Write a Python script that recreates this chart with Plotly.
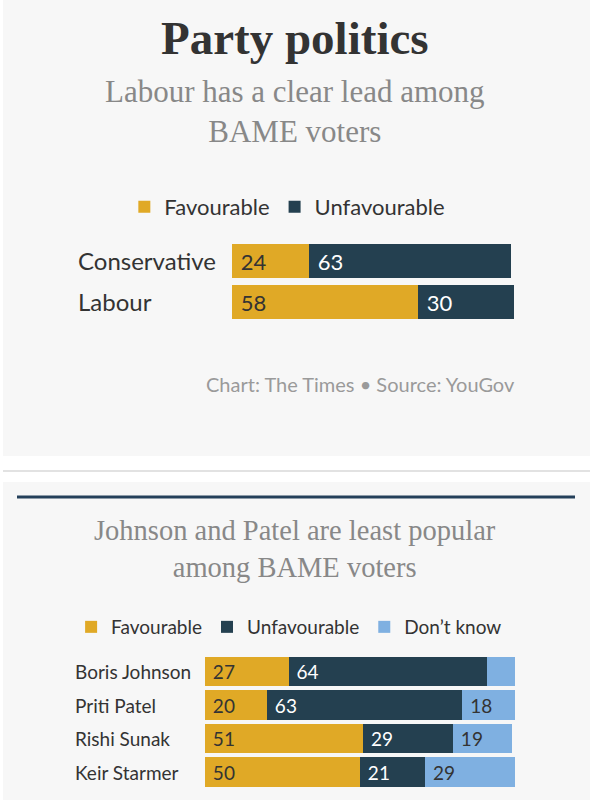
"""Party politics: favourability among BAME voters (The Times / YouGov)"""
import plotly.graph_objects as go

# data
parties = ["Conservative", "Labour"]
party_fav = [24, 58]
party_unfav = [63, 30]

leaders = ["Boris Johnson", "Priti Patel", "Rishi Sunak", "Keir Starmer"]
leader_fav = [27, 20, 51, 50]
leader_unfav = [64, 63, 29, 21]
leader_dk = [10, 18, 19, 29]

YELLOW = "#e0a926"
NAVY = "#244050"
LIGHT = "#7fb0e1"
W, H = 590, 800


def px(x):
    return x / W


def py(y):
    return 1 - y / H


def labels(vals, minimum=12):
    # small segments get no number
    return ["\u00a0" + str(v) if v >= minimum else "" for v in vals]


fig = go.Figure()

# top chart
for name, vals, col, tcol in [("Favourable", party_fav, YELLOW, "#333333"),
                              ("Unfavourable", party_unfav, NAVY, "white")]:
    fig.add_trace(go.Bar(
        y=parties, x=vals, name=name, orientation="h", marker_color=col,
        marker_line_width=0, width=0.83, text=labels(vals),
        textposition="inside", insidetextanchor="start", textangle=0,
        constraintext="none", textfont=dict(family="Lato", size=22, color=tcol),
        xaxis="x", yaxis="y", legend="legend", hoverinfo="skip"))

# bottom chart
for name, vals, col, tcol in [("Favourable", leader_fav, YELLOW, "#333333"),
                              ("Unfavourable", leader_unfav, NAVY, "white"),
                              ("Don\u2019t know", leader_dk, LIGHT, "#333333")]:
    fig.add_trace(go.Bar(
        y=leaders, x=vals, name=name, orientation="h", marker_color=col,
        marker_line_width=0, width=0.87, text=labels(vals),
        textposition="inside", insidetextanchor="start", textangle=0,
        constraintext="none", textfont=dict(family="Lato", size=19, color=tcol),
        xaxis="x2", yaxis="y2", legend="legend2", hoverinfo="skip"))

annotations = [
    dict(text="<b>Party politics</b>", x=0.5, y=py(38),
         font=dict(family="Liberation Serif", size=47, color="#333333")),
    dict(text="Labour has a clear lead among<br>BAME voters", x=0.5, y=py(111),
         font=dict(family="Liberation Serif", size=31, color="#888888")),
    dict(text="Chart: The Times \u2022 Source: YouGov", x=px(517), y=py(384),
         xanchor="right", font=dict(family="Lato", size=20, color="#9a9a9a")),
    dict(text="Johnson and Patel are least popular<br>among BAME voters",
         x=0.5, y=py(549),
         font=dict(family="Liberation Serif", size=28.5, color="#888888")),
]
for p in parties:
    annotations.append(dict(text=p, x=px(76), y=p, xref="paper", yref="y",
                            xanchor="left",
                            font=dict(family="Lato", size=24, color="#333333")))
for p in leaders:
    annotations.append(dict(text=p, x=px(73), y=p, xref="paper", yref="y2",
                            xanchor="left",
                            font=dict(family="Lato", size=19, color="#333333")))
for a in annotations:
    a.setdefault("xref", "paper")
    a.setdefault("yref", "paper")
    a.setdefault("xanchor", "center")
    a.setdefault("yanchor", "middle")
    a["showarrow"] = False

shapes = [
    dict(type="rect", x0=px(3), x1=1, y0=py(456), y1=1),
    dict(type="rect", x0=px(3), x1=1, y0=0, y1=py(482)),
]
for s in shapes:
    s.update(xref="paper", yref="paper", fillcolor="#f7f7f7",
             line_width=0, layer="below")
shapes += [
    dict(type="line", xref="paper", yref="paper", x0=px(3), x1=1,
         y0=py(471), y1=py(471), line=dict(color="#d9d9d9", width=1.5)),
    dict(type="line", xref="paper", yref="paper", x0=px(17), x1=px(575),
         y0=py(497), y1=py(497), line=dict(color="#24405a", width=3)),
]

axis_off = dict(showgrid=False, zeroline=False, showticklabels=False,
                showline=False, ticks="", fixedrange=True)

fig.update_layout(
    width=W, height=H, margin=dict(l=0, r=0, t=0, b=0),
    paper_bgcolor="white", plot_bgcolor="rgba(0,0,0,0)",
    barmode="stack", annotations=annotations, shapes=shapes,
    xaxis=dict(domain=[px(232), px(553)], range=[0, 100], **axis_off),
    yaxis=dict(domain=[py(322.5), py(240.5)], autorange="reversed",
               **axis_off),
    xaxis2=dict(domain=[px(205), px(515)], range=[0, 100], anchor="y2",
                **axis_off),
    yaxis2=dict(domain=[py(788.75), py(654.75)], autorange="reversed",
                anchor="x2", **axis_off),
    legend=dict(orientation="h", x=0.487, xanchor="center", y=py(207),
                yanchor="middle", bgcolor="rgba(0,0,0,0)", traceorder="normal",
                font=dict(family="Lato", size=22, color="#333333"),
                itemclick=False, itemdoubleclick=False),
    legend2=dict(orientation="h", x=0.49, xanchor="center", y=py(627),
                 yanchor="middle", bgcolor="rgba(0,0,0,0)", traceorder="normal",
                 font=dict(family="Lato", size=19, color="#333333"),
                 itemclick=False, itemdoubleclick=False),
)

# the page's default body margin would push the chart off by 8px
fig.write_html("out.html", config={"displayModeBar": False},
               post_script="document.body.style.margin='0';")
